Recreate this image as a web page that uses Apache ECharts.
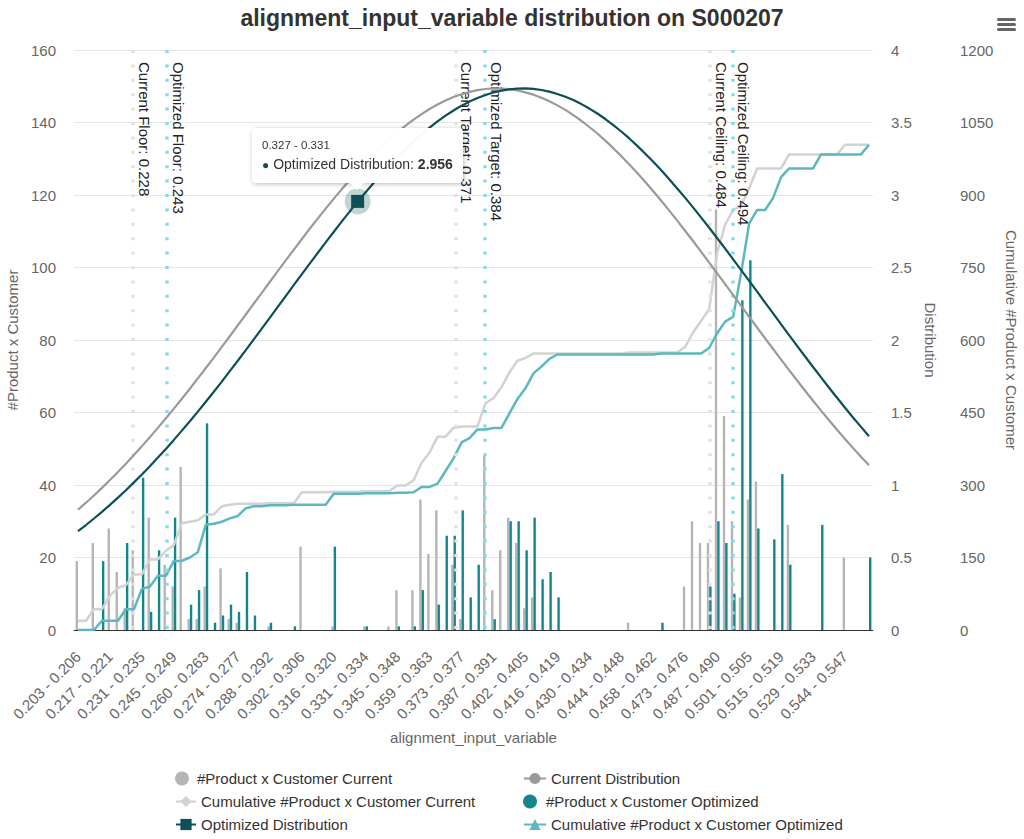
<!DOCTYPE html>
<html><head><meta charset="utf-8">
<script src="https://cdn.jsdelivr.net/npm/echarts@6/dist/echarts.min.js"></script>
<style>html,body{margin:0;padding:0;background:#fff}#chart{width:1024px;height:839px}</style>
</head><body><div id="chart"></div>
<script>
const categories = [
'0.203 - 0.206','0.206 - 0.210','0.210 - 0.213','0.213 - 0.217','0.217 - 0.221','0.221 - 0.224','0.224 - 0.228','0.228 - 0.231','0.231 - 0.235','0.235 - 0.238',
'0.238 - 0.242','0.242 - 0.245','0.245 - 0.249','0.249 - 0.252','0.252 - 0.256','0.256 - 0.260','0.260 - 0.263','0.263 - 0.267','0.267 - 0.270','0.270 - 0.274',
'0.274 - 0.277','0.277 - 0.281','0.281 - 0.284','0.284 - 0.288','0.288 - 0.292','0.292 - 0.295','0.295 - 0.299','0.299 - 0.302','0.302 - 0.306','0.306 - 0.309',
'0.309 - 0.313','0.313 - 0.316','0.316 - 0.320','0.320 - 0.323','0.323 - 0.327','0.327 - 0.331','0.331 - 0.334','0.334 - 0.338','0.338 - 0.341','0.341 - 0.345',
'0.345 - 0.348','0.348 - 0.352','0.352 - 0.355','0.355 - 0.359','0.359 - 0.363','0.363 - 0.366','0.366 - 0.370','0.370 - 0.373','0.373 - 0.377','0.377 - 0.380',
'0.380 - 0.384','0.384 - 0.387','0.387 - 0.391','0.391 - 0.394','0.394 - 0.398','0.398 - 0.402','0.402 - 0.405','0.405 - 0.409','0.409 - 0.412','0.412 - 0.416',
'0.416 - 0.419','0.419 - 0.423','0.423 - 0.426','0.426 - 0.430','0.430 - 0.434','0.434 - 0.437','0.437 - 0.441','0.441 - 0.444','0.444 - 0.448','0.448 - 0.451',
'0.451 - 0.455','0.455 - 0.458','0.458 - 0.462','0.462 - 0.465','0.465 - 0.469','0.469 - 0.473','0.473 - 0.476','0.476 - 0.480','0.480 - 0.483','0.483 - 0.487',
'0.487 - 0.490','0.490 - 0.494','0.494 - 0.497','0.497 - 0.501','0.501 - 0.505','0.505 - 0.508','0.508 - 0.512','0.512 - 0.515','0.515 - 0.519','0.519 - 0.522',
'0.522 - 0.526','0.526 - 0.529','0.529 - 0.533','0.533 - 0.536','0.536 - 0.540','0.540 - 0.544','0.544 - 0.547','0.547 - 0.551','0.551 - 0.554','0.554 - 0.558'];

const currentCounts = [
19,0,24,0,28,16,6,22,0,31, 0,18,12,45,3,3,12,0,17,3, 2,0,0,0,1,0,0,0,23,0,
0,0,1,0,0,0,1,0,0,1, 11,0,11,36,21,33,0,18,3,0, 0,48,11,22,31,24,6,9,0,0,
0,0,0,0,0,0,0,0,0,2, 0,0,0,0,0,0,12,30,24,24, 116,59,30,9,36,41,0,0,0,29,
0,0,0,0,0,0,20,0,0,0];

const optimizedCounts = [
0,0,0,19,0,0,24,0,42,5, 22,0,31,0,7,11,57,2,4,7, 5,16,4,0,2,0,0,1,0,0,
0,0,23,0,0,0,1,0,0,0, 1,0,1,11,0,7,26,26,33,9, 18,0,3,0,30,30,22,31,14,16,
9,0,0,0,0,0,0,0,0,0, 0,0,0,2,0,0,0,0,0,12, 30,24,10,91,102,28,0,25,43,18,
0,0,0,29,0,0,0,0,0,20];

const cumulativeCurrent = [
19,19,43,43,71,87,93,115,115,146, 146,164,176,221,224,227,239,239,256,259,
261,261,261,261,262,262,262,262,285,285, 285,285,286,286,286,286,287,287,287,288,
299,299,310,346,367,400,400,418,421,421, 421,469,480,502,533,557,563,572,572,572,
572,572,572,572,572,572,572,572,572,574, 574,574,574,574,574,574,586,616,640,664,
780,839,869,878,914,955,955,955,955,984, 984,984,984,984,984,984,1004,1004,1004,1004];

const cumulativeOptimized = [
0,0,0,19,19,19,43,43,85,90, 112,112,143,143,150,161,218,220,224,231,
236,252,256,256,258,258,258,259,259,259, 259,259,282,282,282,282,283,283,283,283,
284,284,285,296,296,303,329,355,388,397, 415,415,418,418,448,478,500,531,545,561,
570,570,570,570,570,570,570,570,570,570, 570,570,570,572,572,572,572,572,572,584,
614,638,648,739,841,869,869,894,937,955, 955,955,955,984,984,984,984,984,984,1004];

const currentDistribution = [
0.829,0.878,0.928,0.980,1.034,1.090,1.147,1.207,1.268,1.330,
1.394,1.460,1.527,1.595,1.664,1.735,1.807,1.879,1.952,2.026,
2.101,2.176,2.251,2.325,2.400,2.475,2.549,2.622,2.695,2.767,
2.837,2.906,2.973,3.039,3.102,3.164,3.223,3.280,3.333,3.385,
3.433,3.478,3.520,3.558,3.593,3.624,3.652,3.676,3.695,3.711,
3.723,3.731,3.735,3.734,3.730,3.721,3.708,3.692,3.671,3.647,
3.618,3.587,3.551,3.512,3.469,3.424,3.375,3.323,3.268,3.211,
3.152,3.090,3.026,2.960,2.892,2.823,2.752,2.681,2.608,2.534,
2.460,2.385,2.310,2.235,2.160,2.086,2.011,1.938,1.865,1.792,
1.721,1.650,1.581,1.513,1.447,1.381,1.317,1.255,1.195,1.136];

const optimizedDistribution = [
0.682,0.724,0.769,0.815,0.863,0.913,0.964,1.018,1.073,1.130,
1.189,1.249,1.311,1.375,1.440,1.506,1.574,1.643,1.713,1.785,
1.857,1.930,2.004,2.078,2.153,2.228,2.303,2.378,2.453,2.527,
2.600,2.673,2.745,2.816,2.885,2.956,3.019,3.083,3.145,3.205,
3.263,3.318,3.370,3.419,3.465,3.508,3.547,3.583,3.616,3.644,
3.669,3.690,3.707,3.720,3.729,3.734,3.735,3.732,3.724,3.713,
3.697,3.678,3.655,3.627,3.596,3.562,3.524,3.482,3.438,3.390,
3.339,3.285,3.229,3.170,3.109,3.045,2.980,2.913,2.844,2.774,
2.702,2.630,2.556,2.482,2.408,2.333,2.258,2.183,2.108,2.034,
1.960,1.886,1.814,1.742,1.671,1.602,1.533,1.466,1.401,1.336];

const plotLineNames = ['Current Floor','Optimized Floor','Current Target','Optimized Target','Current Ceiling','Optimized Ceiling'];
const plotLineValues = [0.228, 0.243, 0.371, 0.384, 0.484, 0.494];
const xValueRange = [0.20173, 0.55643];
const highlightIndex = 35;

const FONT = '"Liberation Sans", Arial, Helvetica, sans-serif';
const C_GRAY_BAR = '#b5b5b5', C_TEAL_BAR = '#13868b', C_CUR_DIST = '#9a9a9a', C_OPT_DIST = '#0c4f55',
      C_CUM_CUR = '#d2d2d2', C_CUM_OPT = '#5cb8be', C_PL_CUR = '#e2e2e2', C_PL_OPT = '#80deea';

const chart = echarts.init(document.getElementById('chart'), null, {renderer: 'svg'});

const markLineData = plotLineNames.map((n, i) => [
  {coord: [plotLineValues[i], 160], name: n + ': ' + plotLineValues[i],
   lineStyle: {color: n.indexOf('Current') === 0 ? C_PL_CUR : C_PL_OPT}},
  {coord: [plotLineValues[i], 0]}
]);

// legend layout: two columns, three rows
const legendItems = [
  {name: '#Product x Customer Current', icon: 'circle', col: 0, row: 0},
  {name: 'Current Distribution', col: 1, row: 0},
  {name: 'Cumulative #Product x Customer Current', col: 0, row: 1},
  {name: '#Product x Customer Optimized', icon: 'circle', col: 1, row: 1},
  {name: 'Optimized Distribution', col: 0, row: 2},
  {name: 'Cumulative #Product x Customer Optimized', col: 1, row: 2}
];
const legendCols = [170, 518];
const legends = legendItems.map(it => ({
  data: [it.icon ? {name: it.name, icon: it.icon} : it.name],
  left: legendCols[it.col], top: 766 + it.row * 23,
  itemWidth: it.col === 0 ? 20 : 22, itemHeight: 14,
  textStyle: {fontFamily: FONT, fontSize: 15, color: '#333'}
}));

const noEmph = {disabled: true};

const option = {
  animation: false,
  textStyle: {fontFamily: FONT},
  title: {
    text: 'alignment_input_variable distribution on S000207',
    left: 'center', top: 1,
    textStyle: {fontFamily: FONT, fontSize: 23, fontWeight: 'bold', color: '#333'}
  },
  grid: {left: 74, right: 151, top: 50, bottom: 209, containLabel: false, outerBoundsMode: 'none'},
  legend: legends,
  tooltip: {
    trigger: 'axis', triggerOn: 'none', alwaysShowContent: true, transitionDuration: 0,
    axisPointer: {type: 'none', triggerEmphasis: false},
    backgroundColor: 'rgba(255,255,255,0.97)', borderColor: '#ffffff', borderWidth: 1,
    padding: [9, 9, 8, 9],
    textStyle: {fontFamily: FONT, fontSize: 14, color: '#333'},
    extraCssText: 'box-shadow: 1px 1px 5px rgba(0,0,0,0.28); border-radius: 4px; overflow: visible;',
    position: function (point, params, dom, rect, size) {
      return [point[0] - size.contentSize[0] / 2, point[1] - size.contentSize[1] - 18];
    },
    formatter: function (params) {
      const p = params.find(q => q.seriesName === 'Optimized Distribution');
      if (!p) return '';
      return '<div style="font-size:11.5px;line-height:15px;color:#333;margin-bottom:2px">' + p.name + '</div>' +
        '<div style="line-height:18px;white-space:nowrap"><span style="color:' + C_OPT_DIST + ';font-size:12px">\u25CF</span> Optimized Distribution: <b>' +
        p.value.toFixed(3) + '</b></div>' +
        '<div style="position:absolute;left:50%;bottom:-8px;margin-left:-8px;width:0;height:0;border-left:8px solid transparent;border-right:8px solid transparent;border-top:8px solid #fff;"></div>';
    }
  },
  xAxis: [
    {type: 'category', data: categories, boundaryGap: true,
     axisLine: {show: true, lineStyle: {color: '#333', width: 1}},
     axisTick: {show: false},
     axisLabel: {interval: 3, rotate: 45, fontFamily: FONT, fontSize: 15, color: '#666', margin: 24},
     name: 'alignment_input_variable', nameLocation: 'middle', nameGap: 100,
     nameTextStyle: {fontFamily: FONT, fontSize: 15, color: '#666'},
     splitLine: {show: false}},
    {type: 'value', min: xValueRange[0], max: xValueRange[1], show: false, position: 'bottom', splitLine: {show: false}}
  ],
  yAxis: [
    {type: 'value', min: 0, max: 160, interval: 20, position: 'left',
     name: '#Product x Customer', nameLocation: 'middle', nameRotate: 90, nameGap: 52,
     nameTextStyle: {fontFamily: FONT, fontSize: 15, color: '#666'},
     axisLine: {show: false}, axisTick: {show: false},
     axisLabel: {fontFamily: FONT, fontSize: 15, color: '#666', margin: 18},
     splitLine: {show: true, lineStyle: {color: '#e6e6e6', width: 1}}},
    {type: 'value', min: 0, max: 4, interval: 0.5, position: 'right',
     name: 'Distribution', nameLocation: 'middle', nameRotate: -90, nameGap: 48,
     nameTextStyle: {fontFamily: FONT, fontSize: 15, color: '#666'},
     axisLine: {show: false}, axisTick: {show: false},
     axisLabel: {fontFamily: FONT, fontSize: 15, color: '#666', margin: 18, formatter: v => String(v)},
     splitLine: {show: false}},
    {type: 'value', min: 0, max: 1200, interval: 150, position: 'right', offset: 69,
     name: 'Cumulative #Product x Customer', nameLocation: 'middle', nameRotate: -90, nameGap: 60,
     nameTextStyle: {fontFamily: FONT, fontSize: 15, color: '#666'},
     axisLine: {show: false}, axisTick: {show: false},
     axisLabel: {fontFamily: FONT, fontSize: 15, color: '#666', margin: 18, formatter: v => String(v)},
     splitLine: {show: false}}
  ],
  series: [
    {name: '#Product x Customer Current', type: 'bar', xAxisIndex: 0, yAxisIndex: 0, data: currentCounts,
     barWidth: 2.4, barGap: '0%', itemStyle: {color: C_GRAY_BAR}, z: 2, emphasis: noEmph},
    {name: 'Current Distribution', type: 'line', xAxisIndex: 0, yAxisIndex: 1, data: currentDistribution,
     symbol: 'circle', symbolSize: 8, showSymbol: false, lineStyle: {color: C_CUR_DIST, width: 2.2}, itemStyle: {color: C_CUR_DIST}, z: 5, emphasis: noEmph},
    {name: 'Cumulative #Product x Customer Current', type: 'line', xAxisIndex: 0, yAxisIndex: 2, data: cumulativeCurrent,
     symbol: 'diamond', symbolSize: 9, showSymbol: false, lineStyle: {color: C_CUM_CUR, width: 2.5}, itemStyle: {color: C_CUM_CUR}, z: 4, emphasis: noEmph},
    {name: '#Product x Customer Optimized', type: 'bar', xAxisIndex: 0, yAxisIndex: 0, data: optimizedCounts,
     barWidth: 2.4, barGap: '0%', itemStyle: {color: C_TEAL_BAR}, z: 2, emphasis: noEmph},
    {name: 'Optimized Distribution', type: 'line', xAxisIndex: 0, yAxisIndex: 1, data: optimizedDistribution,
     symbol: 'rect', symbolSize: 9, showSymbol: false, lineStyle: {color: C_OPT_DIST, width: 2.2}, itemStyle: {color: C_OPT_DIST}, z: 5, emphasis: noEmph,
     markPoint: {silent: true, label: {show: false}, animation: false,
       data: [
         {coord: [highlightIndex, optimizedDistribution[highlightIndex]], symbol: 'circle', symbolSize: 26, itemStyle: {color: 'rgba(12,79,85,0.25)'}},
         {coord: [highlightIndex, optimizedDistribution[highlightIndex]], symbol: 'rect', symbolSize: 13, itemStyle: {color: C_OPT_DIST}}
       ]}},
    {name: 'Cumulative #Product x Customer Optimized', type: 'line', xAxisIndex: 0, yAxisIndex: 2, data: cumulativeOptimized,
     symbol: 'triangle', symbolSize: 9, showSymbol: false, lineStyle: {color: C_CUM_OPT, width: 2.5}, itemStyle: {color: C_CUM_OPT}, z: 4, emphasis: noEmph},
    {name: 'plotLines', type: 'line', xAxisIndex: 1, yAxisIndex: 0, data: [], z: 3, silent: true,
     markLine: {silent: true, symbol: ['none', 'none'], animation: false,
       lineStyle: {type: [3, 11.4], width: 3.5},
       label: {show: true, position: 'insideStartTop', formatter: '{b}', fontFamily: FONT, fontSize: 15, color: '#222', distance: [12, 4]},
       emphasis: {disabled: true},
       data: markLineData}}
  ],
  graphic: [
    {type: 'rect', left: 997, top: 18, shape: {width: 19, height: 3, r: 1.5}, style: {fill: '#666'}},
    {type: 'rect', left: 997, top: 23, shape: {width: 19, height: 3, r: 1.5}, style: {fill: '#666'}},
    {type: 'rect', left: 997, top: 28, shape: {width: 19, height: 3, r: 1.5}, style: {fill: '#666'}}
  ]
};
chart.setOption(option);
chart.dispatchAction({type: 'showTip', seriesIndex: 4, dataIndex: highlightIndex});
chart.dispatchAction({type: 'downplay', seriesIndex: [1, 2, 4, 5], dataIndex: highlightIndex});
</script>
</body></html>
